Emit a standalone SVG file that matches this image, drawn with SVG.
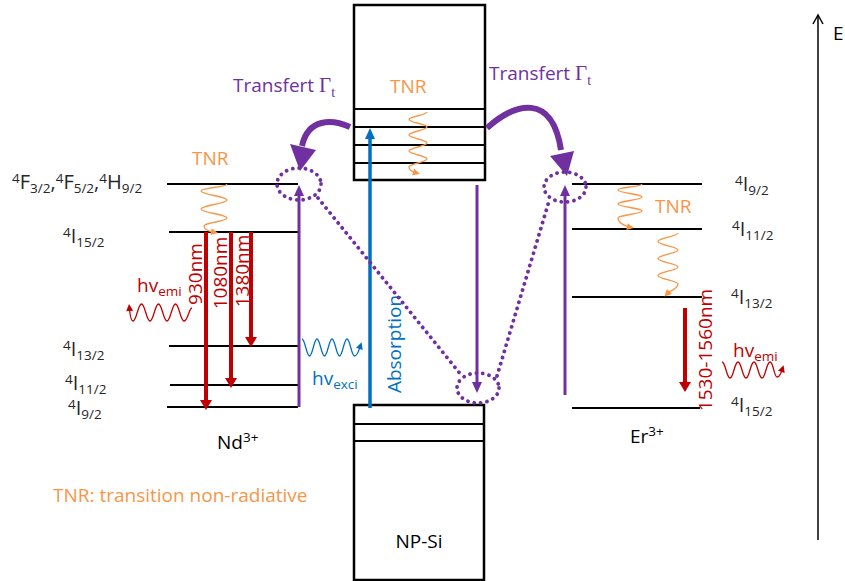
<svg xmlns="http://www.w3.org/2000/svg" width="845" height="581" viewBox="0 0 845 581">
<style>
text{font-family:"Open Sans","Liberation Sans",sans-serif;font-size:19px}
.lv{fill:#262626;font-size:20px}
.sm{font-size:13.5px}
.lvl{stroke:#000;stroke-width:2}
.box{fill:none;stroke:#000;stroke-width:2.5}
.band{stroke:#000;stroke-width:2}
.pur{fill:#7030A0}
.red{fill:#C00000}
.blu{fill:#0070C0}
.org{fill:#F79646}
.gam{font-family:"Liberation Serif","DejaVu Serif",serif}
.dot{fill:none;stroke:#7030A0;stroke-width:3.8;stroke-dasharray:0.1 6.3;stroke-linecap:round}
.wo{fill:none;stroke:#F79646;stroke-width:1.3}
.wb{fill:none;stroke:#0070C0;stroke-width:1.3}
.wr{fill:none;stroke:#C00000;stroke-width:1.3}
</style>
<defs>
<marker id="mr" markerUnits="userSpaceOnUse" markerWidth="10" markerHeight="12" refX="3" refY="6" orient="auto" overflow="visible"><path d="M0,0 L10,6 L0,12 z" fill="#C00000"/></marker>
<marker id="mp" markerUnits="userSpaceOnUse" markerWidth="11" markerHeight="10" refX="3" refY="5" orient="auto" overflow="visible"><path d="M0,0 L11,5 L0,10 z" fill="#7030A0"/></marker>
<marker id="mb" markerUnits="userSpaceOnUse" markerWidth="11" markerHeight="10" refX="3" refY="5" orient="auto" overflow="visible"><path d="M0,0 L11,5 L0,10 z" fill="#0070C0"/></marker>
<marker id="wmo" markerUnits="userSpaceOnUse" markerWidth="7" markerHeight="7" refX="2" refY="3.5" orient="auto" overflow="visible"><path d="M0,0 L7,3.5 L0,7 z" fill="#F79646"/></marker>
<marker id="wmb" markerUnits="userSpaceOnUse" markerWidth="7" markerHeight="7" refX="2" refY="3.5" orient="auto" overflow="visible"><path d="M0,0 L7,3.5 L0,7 z" fill="#0070C0"/></marker>
<marker id="wmr" markerUnits="userSpaceOnUse" markerWidth="7" markerHeight="7" refX="2" refY="3.5" orient="auto" overflow="visible"><path d="M0,0 L7,3.5 L0,7 z" fill="#C00000"/></marker>
</defs>

<g id="np-si-top">
<rect class="box" x="354" y="5" width="131" height="175"/>
<line class="band" x1="354" y1="109" x2="485" y2="109"/>
<line class="band" x1="354" y1="127" x2="485" y2="127"/>
<line class="band" x1="354" y1="145" x2="485" y2="145"/>
<line class="band" x1="354" y1="163" x2="485" y2="163"/>
<text class="org" x="390" y="93">TNR</text>
</g>

<g id="np-si-bottom">
<rect class="box" x="354" y="405" width="130" height="175"/>
<line class="band" x1="354" y1="424" x2="484" y2="424"/>
<line class="band" x1="354" y1="441" x2="484" y2="441"/>
<text x="419" y="548" text-anchor="middle" fill="#000">NP-Si</text>
</g>

<g id="nd-levels">
<line class="lvl" x1="167" y1="184" x2="298" y2="184"/>
<line class="lvl" x1="169" y1="232" x2="298" y2="232"/>
<line class="lvl" x1="169" y1="346" x2="298" y2="346"/>
<line class="lvl" x1="170" y1="385" x2="298" y2="385"/>
<line class="lvl" x1="167" y1="407" x2="298" y2="407"/>
<text class="lv" x="12" y="189"><tspan class="sm" dy="-6">4</tspan><tspan dy="6">F</tspan><tspan class="sm" dy="4">3/2</tspan><tspan dy="-4">,</tspan><tspan class="sm" dy="-6">4</tspan><tspan dy="6">F</tspan><tspan class="sm" dy="4">5/2</tspan><tspan dy="-4">,</tspan><tspan class="sm" dy="-6">4</tspan><tspan dy="6">H</tspan><tspan class="sm" dy="4">9/2</tspan></text>
<text class="lv" x="63" y="243"><tspan class="sm" dy="-6">4</tspan><tspan dy="6">I</tspan><tspan class="sm" dy="4">15/2</tspan></text>
<text class="lv" x="63" y="356"><tspan class="sm" dy="-6">4</tspan><tspan dy="6">I</tspan><tspan class="sm" dy="4">13/2</tspan></text>
<text class="lv" x="65" y="390"><tspan class="sm" dy="-6">4</tspan><tspan dy="6">I</tspan><tspan class="sm" dy="4">11/2</tspan></text>
<text class="lv" x="68" y="415"><tspan class="sm" dy="-6">4</tspan><tspan dy="6">I</tspan><tspan class="sm" dy="4">9/2</tspan></text>
<text x="217" y="449" fill="#000">Nd<tspan class="sm" dy="-7">3+</tspan></text>
<text class="org" x="192" y="165">TNR</text>
</g>

<g id="er-levels">
<line class="lvl" x1="572" y1="184" x2="702" y2="184"/>
<line class="lvl" x1="572" y1="229" x2="702" y2="229"/>
<line class="lvl" x1="572" y1="297" x2="702" y2="297"/>
<line class="lvl" x1="572" y1="408" x2="700" y2="408"/>
<text class="lv" x="735" y="191"><tspan class="sm" dy="-6">4</tspan><tspan dy="6">I</tspan><tspan class="sm" dy="4">9/2</tspan></text>
<text class="lv" x="732" y="236"><tspan class="sm" dy="-6">4</tspan><tspan dy="6">I</tspan><tspan class="sm" dy="4">11/2</tspan></text>
<text class="lv" x="731" y="304"><tspan class="sm" dy="-6">4</tspan><tspan dy="6">I</tspan><tspan class="sm" dy="4">13/2</tspan></text>
<text class="lv" x="731" y="412"><tspan class="sm" dy="-6">4</tspan><tspan dy="6">I</tspan><tspan class="sm" dy="4">15/2</tspan></text>
<text x="630" y="443" fill="#000">Er<tspan class="sm" dy="-7">3+</tspan></text>
<text class="org" x="655" y="213">TNR</text>
</g>

<g id="energy-axis">
<line x1="818" y1="540" x2="818" y2="15" stroke="#000" stroke-width="1.5"/>
<path d="M813,24 L818,15 L823,24" fill="none" stroke="#000" stroke-width="1.5"/>
<text x="833" y="40" fill="#000" font-size="19">E</text>
</g>

<g id="legend">
<text class="org" x="53" y="502">TNR: transition non-radiative</text>
</g>

<g id="connectors">
<line x1="206" y1="232" x2="206" y2="403" stroke="#C00000" stroke-width="4" marker-end="url(#mr)"/>
<line x1="231" y1="232" x2="231" y2="381" stroke="#C00000" stroke-width="4" marker-end="url(#mr)"/>
<line x1="251" y1="232" x2="251" y2="340" stroke="#C00000" stroke-width="4" marker-end="url(#mr)"/>
<text class="red" transform="translate(202,274) rotate(-90)" text-anchor="middle">930nm</text>
<text class="red" transform="translate(227,273) rotate(-90)" text-anchor="middle">1080nm</text>
<text class="red" transform="translate(249,271) rotate(-90)" text-anchor="middle">1380nm</text>
<line x1="685" y1="308" x2="685" y2="385" stroke="#C00000" stroke-width="4" marker-end="url(#mr)"/>
<text class="red" transform="translate(712,350) rotate(-90)" text-anchor="middle">1530-1560nm</text>
<line x1="299" y1="407" x2="299" y2="193" stroke="#7030A0" stroke-width="3" marker-end="url(#mp)"/>
<line x1="565" y1="395" x2="565" y2="193" stroke="#7030A0" stroke-width="3" marker-end="url(#mp)"/>
<line x1="477" y1="185" x2="477" y2="385" stroke="#7030A0" stroke-width="3" marker-end="url(#mp)"/>
<line x1="370" y1="408" x2="370" y2="136" stroke="#0070C0" stroke-width="3.5" marker-end="url(#mb)"/>
<text class="blu" transform="translate(401,344) rotate(-90)" text-anchor="middle">Absorption</text>
<path d="M350,127 C332,119 308,118 302,146" fill="none" stroke="#7030A0" stroke-width="6"/>
<polygon points="290,144 316,150 300,171" fill="#7030A0"/>
<path d="M487,128 C515,103 552,92 561,150" fill="none" stroke="#7030A0" stroke-width="6"/>
<polygon points="550,156 574,151 567,176" fill="#7030A0"/>
<text class="pur" x="233" y="92">Transfert <tspan class="gam" font-size="21">Γ</tspan><tspan class="gam" font-size="14" dy="5">t</tspan></text>
<text class="pur" x="489" y="80">Transfert <tspan class="gam" font-size="21">Γ</tspan><tspan class="gam" font-size="14" dy="5">t</tspan></text>
<ellipse class="dot" cx="299" cy="184" rx="22" ry="16"/>
<ellipse class="dot" cx="565" cy="187" rx="21" ry="15"/>
<ellipse class="dot" cx="478" cy="388" rx="21" ry="15"/>
<path class="dot" d="M318,198 L462,376"/>
<path class="dot" d="M497,376 L549,201"/>
<path class="wo" marker-end="url(#wmo)" d="M227,184 C227,187.6 201,187.4 201,191 C201,194.6 227,196.4 227,200 C227,203.6 201,205.4 201,209 C201,212.6 227,214.4 227,218 C227,221.6 204,222.4 204,226 C204,229.5 208,231 213,232"/>
<path class="wo" marker-end="url(#wmo)" d="M427,112 C427,115 409,116.5 409,119.5 C409,122.5 427,124 427,127 C427,130 409,132 409,135 C409,138 427,140 427,143 C427,146 409,148 409,151 C409,154 427,156 427,159 C427,162 409,164 409,167 C409,170 412,171.5 415,172.5"/>
<path class="wo" marker-end="url(#wmo)" d="M642,184 C642,187 618,187 618,190 C618,193 642,194 642,197 C642,200 618,201 618,204 C618,207 642,208 642,211 C642,214 618,215 618,218 C618,222 624,226 629,227"/>
<path class="wo" marker-end="url(#wmo)" d="M678,233 C678,236.4 658,238 658,241.5 C658,245 678,246.6 678,250 C678,253.4 658,255 658,258.5 C658,262 678,263.6 678,267 C678,270.4 658,272 658,275.5 C658,279 678,280.6 678,284 C678,289 671,290 668,293"/>
<path class="wb" marker-end="url(#wmb)" d="M302,339 C305,339 306.5,356 309.5,356 C312.5,356 314,339 317,339 C320,339 321.5,356 324.5,356 C327.5,356 329,339 332,339 C335,339 336.5,356 339.5,356 C342.5,356 344,339 347,339 C350,339 351.5,356 354.5,356 C357.5,356 359,350 360,347"/>
<text class="blu" x="312" y="385">hv<tspan class="sm" dy="4">exci</tspan></text>
<path class="wr" marker-end="url(#wmr)" d="M192,308 C189,308 188,321 184,321 C180.5,321 179,304 175.5,304 C172,304 170.5,321 167,321 C163.5,321 162,304 158.5,304 C155,304 153.5,321 150,321 C146.5,321 145,304 141.5,304 C138,304 136.5,321 133,321 C130.5,321 130,314 129.5,309"/>
<text class="red" x="137" y="292">hv<tspan class="sm" dy="4">emi</tspan></text>
<path class="wr" marker-end="url(#wmr)" d="M722,362 C725.5,362 726.5,378 730,378 C733.5,378 734.5,362 738,362 C741.5,362 742.5,378 746,378 C749.5,378 750.5,362 754,362 C757.5,362 758.5,378 762,378 C765.5,378 766.5,362 770,362 C773.5,362 774,377 777,377 C780,377 781,373 782,370"/>
<text class="red" x="733" y="357">hv<tspan class="sm" dy="4">emi</tspan></text>
</g>
</svg>
